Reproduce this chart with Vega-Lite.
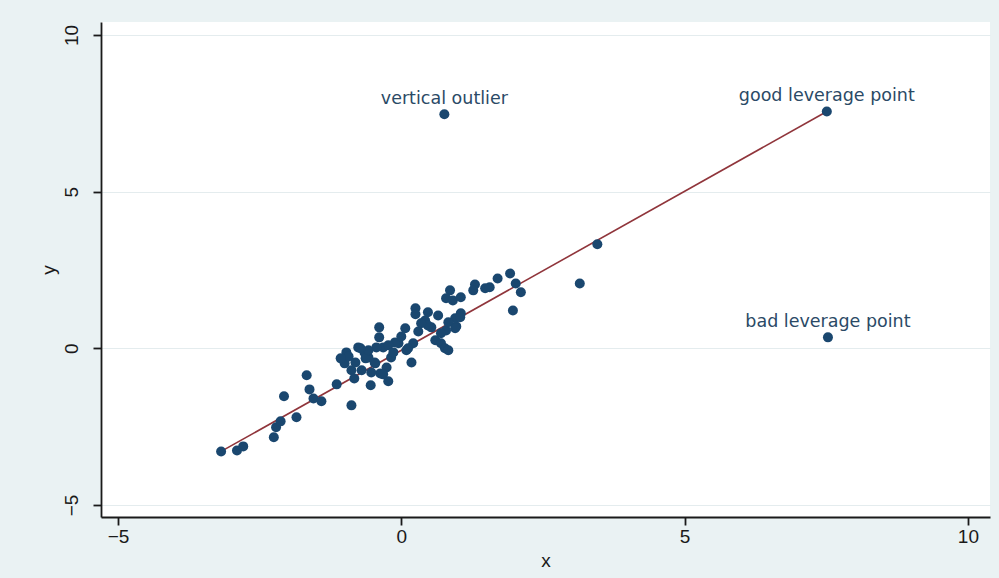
{
  "$schema": "https://vega.github.io/schema/vega-lite/v6.json",
  "autosize": {"type": "none"},
  "width": 889,
  "height": 495,
  "padding": {"left": 101, "top": 22, "right": 9, "bottom": 61},
  "background": "#eaf2f3",
  "config": {
    "view": {"fill": "white", "stroke": null},
    "font": "Liberation Sans"
  },
  "datasets": {
    "pts": [
      {"x": -3.18, "y": -3.29, "label": ""},
      {"x": -2.90, "y": -3.26, "label": ""},
      {"x": -2.79, "y": -3.13, "label": ""},
      {"x": -2.25, "y": -2.84, "label": ""},
      {"x": -2.21, "y": -2.52, "label": ""},
      {"x": -2.13, "y": -2.33, "label": ""},
      {"x": -1.85, "y": -2.20, "label": ""},
      {"x": -2.07, "y": -1.53, "label": ""},
      {"x": -1.67, "y": -0.86, "label": ""},
      {"x": -1.62, "y": -1.31, "label": ""},
      {"x": -1.55, "y": -1.60, "label": ""},
      {"x": -1.41, "y": -1.69, "label": ""},
      {"x": -1.14, "y": -1.15, "label": ""},
      {"x": -0.88, "y": -1.82, "label": ""},
      {"x": -1.00, "y": -0.48, "label": ""},
      {"x": -0.97, "y": -0.13, "label": ""},
      {"x": -0.88, "y": -0.70, "label": ""},
      {"x": -0.83, "y": -0.96, "label": ""},
      {"x": -0.76, "y": 0.03, "label": ""},
      {"x": -0.65, "y": -0.13, "label": ""},
      {"x": -0.58, "y": -0.29, "label": ""},
      {"x": -0.54, "y": -1.18, "label": ""},
      {"x": -0.46, "y": -0.48, "label": ""},
      {"x": -0.39, "y": 0.67, "label": ""},
      {"x": -0.39, "y": 0.35, "label": ""},
      {"x": -0.37, "y": -0.80, "label": ""},
      {"x": -0.32, "y": 0.03, "label": ""},
      {"x": -0.23, "y": -1.05, "label": ""},
      {"x": -0.26, "y": -0.61, "label": ""},
      {"x": -0.18, "y": -0.29, "label": ""},
      {"x": -0.05, "y": 0.16, "label": ""},
      {"x": 0.07, "y": 0.64, "label": ""},
      {"x": 0.09, "y": -0.06, "label": ""},
      {"x": 0.18, "y": -0.45, "label": ""},
      {"x": 0.21, "y": 0.16, "label": ""},
      {"x": 0.25, "y": 1.28, "label": ""},
      {"x": 0.25, "y": 1.09, "label": ""},
      {"x": 0.30, "y": 0.54, "label": ""},
      {"x": 0.42, "y": 0.89, "label": ""},
      {"x": 0.47, "y": 1.15, "label": ""},
      {"x": 0.53, "y": 0.67, "label": ""},
      {"x": 0.60, "y": 0.26, "label": ""},
      {"x": 0.65, "y": 1.05, "label": ""},
      {"x": 0.70, "y": 0.16, "label": ""},
      {"x": 0.77, "y": 0.00, "label": ""},
      {"x": 0.79, "y": 0.57, "label": ""},
      {"x": 0.86, "y": 1.85, "label": ""},
      {"x": 0.79, "y": 1.60, "label": ""},
      {"x": 0.91, "y": 1.53, "label": ""},
      {"x": 0.95, "y": 0.96, "label": ""},
      {"x": 0.97, "y": 0.70, "label": ""},
      {"x": 1.05, "y": 1.63, "label": ""},
      {"x": 1.05, "y": 1.12, "label": ""},
      {"x": 1.30, "y": 2.04, "label": ""},
      {"x": 1.27, "y": 1.85, "label": ""},
      {"x": 1.48, "y": 1.92, "label": ""},
      {"x": 1.56, "y": 1.95, "label": ""},
      {"x": 1.70, "y": 2.23, "label": ""},
      {"x": 1.92, "y": 2.39, "label": ""},
      {"x": 2.02, "y": 2.07, "label": ""},
      {"x": 2.11, "y": 1.79, "label": ""},
      {"x": 1.97, "y": 1.21, "label": ""},
      {"x": 3.15, "y": 2.07, "label": ""},
      {"x": 3.46, "y": 3.32, "label": ""},
      {"x": -0.93, "y": -0.26, "label": ""},
      {"x": -0.81, "y": -0.45, "label": ""},
      {"x": -0.63, "y": -0.32, "label": ""},
      {"x": -0.70, "y": -0.70, "label": ""},
      {"x": -0.53, "y": -0.77, "label": ""},
      {"x": -0.32, "y": -0.83, "label": ""},
      {"x": -1.07, "y": -0.32, "label": ""},
      {"x": -0.44, "y": 0.03, "label": ""},
      {"x": 0.47, "y": 0.73, "label": ""},
      {"x": 0.35, "y": 0.80, "label": ""},
      {"x": 0.83, "y": 0.83, "label": ""},
      {"x": 1.04, "y": 0.99, "label": ""},
      {"x": 0.70, "y": 0.48, "label": ""},
      {"x": 0.95, "y": 0.64, "label": ""},
      {"x": -0.11, "y": 0.19, "label": ""},
      {"x": 0.12, "y": 0.00, "label": ""},
      {"x": 0.83, "y": -0.06, "label": ""},
      {"x": -0.23, "y": 0.10, "label": ""},
      {"x": -0.58, "y": -0.06, "label": ""},
      {"x": -0.72, "y": 0.00, "label": ""},
      {"x": -0.47, "y": -0.45, "label": ""},
      {"x": -0.14, "y": -0.13, "label": ""},
      {"x": 0.00, "y": 0.38, "label": ""},
      {"x": 0.76, "y": 7.47, "label": "vertical outlier"},
      {"x": 7.51, "y": 7.56, "label": "good leverage point"},
      {"x": 7.53, "y": 0.35, "label": "bad leverage point"}
    ],
    "fit": [
      {"x": -3.18, "y": -3.29},
      {"x": 7.51, "y": 7.56}
    ]
  },
  "encoding": {
    "x": {
      "field": "x", "type": "quantitative",
      "scale": {"domain": [-5.3, 10.39], "nice": false, "zero": false},
      "axis": {
        "values": [-5, 0, 5, 10], "grid": false, "title": "x",
        "domainColor": "#1a1a1a", "domainWidth": 1.8,
        "tickColor": "#1a1a1a", "tickWidth": 1.8, "tickSize": 8,
        "labelFont": "Liberation Sans", "labelFontSize": 19, "labelColor": "#1a1a1a",
        "labelPadding": 2, "labelFlush": false,
        "titleFont": "Liberation Sans", "titleFontSize": 19, "titleFontWeight": "normal",
        "titleColor": "#1a1a1a", "titlePadding": 5
      }
    },
    "y": {
      "field": "y", "type": "quantitative",
      "scale": {"domain": [-5.383, 10.415], "nice": false, "zero": false},
      "axis": {
        "values": [-5, 0, 5, 10], "grid": true, "gridColor": "#e4ecee", "gridWidth": 1,
        "title": "y",
        "domainColor": "#1a1a1a", "domainWidth": 1.8,
        "tickColor": "#1a1a1a", "tickWidth": 1.8, "tickSize": 8,
        "labelAngle": 270, "labelAlign": "center", "labelBaseline": "bottom",
        "labelFont": "Liberation Sans", "labelFontSize": 19, "labelColor": "#1a1a1a",
        "labelPadding": 12, "labelFlush": false,
        "titleFont": "Liberation Sans", "titleFontSize": 19, "titleFontWeight": "normal",
        "titleColor": "#1a1a1a", "titlePadding": 4
      }
    }
  },
  "layer": [
    {
      "data": {"name": "fit"},
      "mark": {"type": "line", "color": "#90353b", "strokeWidth": 1.6}
    },
    {
      "data": {"name": "pts"},
      "mark": {"type": "point", "filled": true, "shape": "circle", "size": 100, "color": "#1a476f", "opacity": 1}
    },
    {
      "data": {"name": "pts"},
      "transform": [{"filter": "datum.label != ''"}],
      "mark": {"type": "text", "dy": -15, "font": "DejaVu Sans", "fontSize": 17.5, "color": "#2b4a66", "align": "center", "baseline": "middle"},
      "encoding": {"text": {"field": "label"}}
    }
  ]
}
